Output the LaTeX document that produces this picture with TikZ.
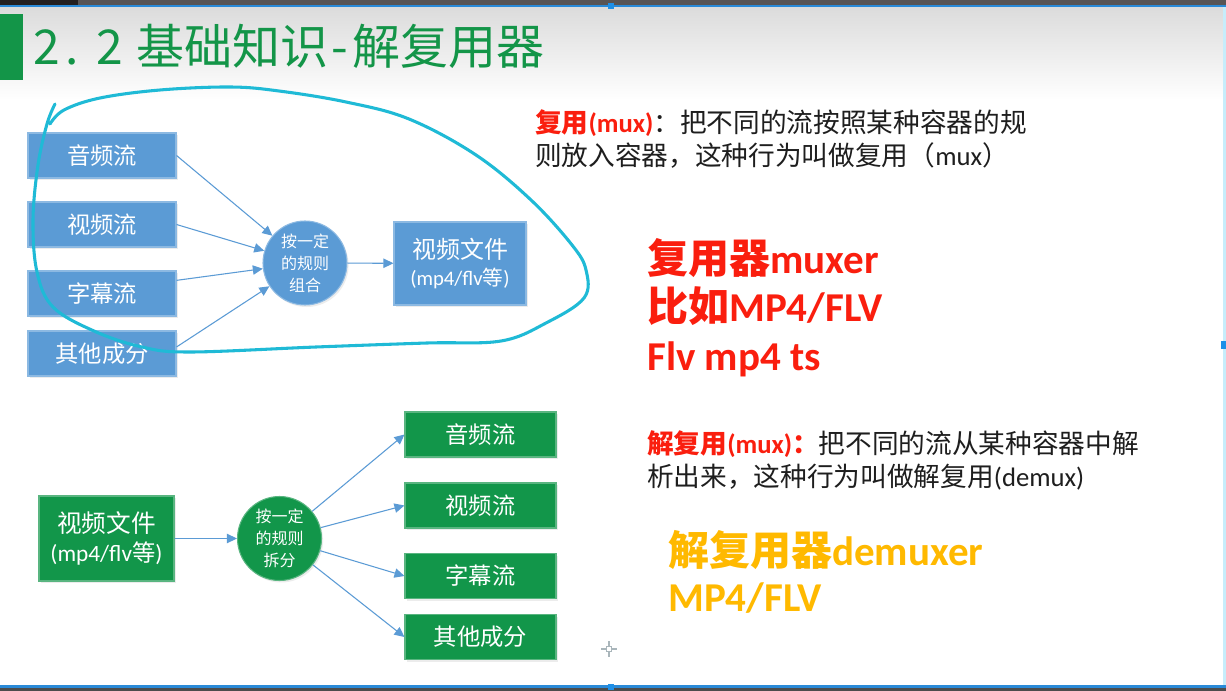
\documentclass[tikz,border=0pt]{standalone}
\usepackage{fontspec}
\setmainfont{Carlito}
\newfontfamily\cjk{Noto Sans CJK SC}
\usetikzlibrary{arrows.meta,shadows}
\newcommand\zh[1]{{\cjk #1}}
\newcommand\cbox[2]{\makebox[#1][c]{#2}}

\definecolor{officeblue}{HTML}{5B9BD5}
\definecolor{boxgreen}{HTML}{12964A}
\definecolor{titlegreen}{HTML}{139548}
\definecolor{penCyan}{HTML}{1FBAD6}
\definecolor{hotred}{HTML}{FA1E0E}
\definecolor{amber}{HTML}{FFB900}
\definecolor{ink}{HTML}{1E1E1E}
\definecolor{barDark}{HTML}{585454}
\definecolor{barBlack}{HTML}{231F1F}
\definecolor{barBlue}{HTML}{2A8AD8}
\definecolor{handle}{HTML}{1E90E8}

\tikzset{
  flowbox/.style={rectangle, fill=#1, draw=#1!70!white, line width=0.8pt,
    text=white, inner sep=0pt,
    drop shadow={opacity=0.15, shadow xshift=1.2pt, shadow yshift=-1.5pt}},
  streambox/.style={flowbox=#1, minimum height=33.75pt,
    font=\fontsize{17.5pt}{21pt}\selectfont\cjk},
  rulecircle/.style={circle, fill=#1, draw=#1!70!white, line width=0.8pt,
    text=white, inner sep=0pt, minimum size=63pt, align=center,
    font=\fontsize{12pt}{16.5pt}\selectfont\cjk,
    drop shadow={opacity=0.15, shadow xshift=1.2pt, shadow yshift=-1.5pt}},
  flow/.style={draw=officeblue, line width=0.8pt,
    -{Triangle[length=7.5pt,width=7pt]}},
  pen/.style={draw=penCyan, line width=2.3pt, line cap=round, line join=round},
  desc/.style={anchor=base west, text=ink, inner sep=0pt,
    font=\fontsize{20pt}{24pt}\selectfont},
  bigline/.style={anchor=base west, inner sep=0pt,
    font=\fontsize{30.75pt}{37pt}\selectfont\bfseries},
}

\begin{document}
\begin{tikzpicture}[x=0.75pt, y=-0.75pt]
\useasboundingbox (0,0) rectangle (1226,691);

% slide background
\fill[white] (0,0) rectangle (1226,691);
\shade[top color=black!14, bottom color=white] (0,7) rectangle (1223,100);
\fill[cyan!22] (1223,0) rectangle (1226,691);

% window bars
\fill[barDark] (0,0) rectangle (1226,5);
\fill[barBlack] (0,0) rectangle (78,5);
\fill[barBlue] (0,5) rectangle (1226,7);
\fill[barBlue] (0,685) rectangle (1226,688);
\fill[black!70] (0,688) rectangle (1226,691);
\fill[handle] (608,3) rectangle (614,9);
\fill[handle] (1221,341) rectangle (1226,349);
\fill[handle] (608,684) rectangle (614,690);

% title
\fill[titlegreen] (0,14) rectangle (23,80);
\node[anchor=base west, inner sep=0pt, text=titlegreen,
      font=\fontsize{36pt}{40pt}\selectfont\cjk] (title) at (35,65)
  {\cbox{0.5em}{2}\cbox{0.55em}{.}\cbox{0.25em}{}\cbox{0.5em}{2}\cbox{0.3em}{}%
   基础知识\cbox{0.5em}{-}解复用器};

% muxing: streams are combined into one file
\node[streambox=officeblue, minimum width=111pt] (ma) at (102,155.5) {音频流};
\node[streambox=officeblue, minimum width=111pt] (mv) at (102,224.5) {视频流};
\node[streambox=officeblue, minimum width=111pt] (ms) at (102,293.5) {字幕流};
\node[streambox=officeblue, minimum width=111pt] (mo) at (102,353.5) {其他成分};
\node[rulecircle=officeblue] (mc) at (305,263) {按一定\\的规则\\组合};
\node[flowbox=officeblue, minimum width=99pt, minimum height=62.25pt, align=center]
  (mf) at (460,263.5)
  {\fontsize{18pt}{24pt}\selectfont\cjk 视频文件\\[5pt]
   \fontsize{15.5pt}{20pt}\selectfont (mp4/flv\zh{等})};

\draw[flow] (ma.east) -- (mc);
\draw[flow] (mv.east) -- (mc);
\draw[flow] (ms.10) -- (mc);
\draw[flow] (mo.5) -- (mc);
\draw[flow] (mc) -- (mf);

% demuxing: one file is split into streams
\node[flowbox=boxgreen, minimum width=101.25pt, minimum height=63.75pt, align=center]
  (df) at (106.5,538.5)
  {\fontsize{18.5pt}{24pt}\selectfont\cjk 视频文件\\[4pt]
   \fontsize{17.5pt}{22pt}\selectfont (mp4/flv\zh{等})};
\node[rulecircle=boxgreen] (dc) at (279.5,538.5) {按一定\\的规则\\拆分};
\node[streambox=boxgreen, minimum width=113.25pt] (da) at (480.5,434.5) {音频流};
\node[streambox=boxgreen, minimum width=113.25pt] (dv) at (480.5,505.5) {视频流};
\node[streambox=boxgreen, minimum width=113.25pt] (ds) at (480.5,576) {字幕流};
\node[streambox=boxgreen, minimum width=113.25pt] (do) at (480.5,637) {其他成分};

\draw[flow] (df) -- (dc);
\draw[flow] (dc) -- (da.west);
\draw[flow] (dc) -- (dv.west);
\draw[flow] (dc) -- (ds.west);
\draw[flow] (dc) -- (do.west);

% hand-drawn pen loop around the muxing diagram
\draw[pen] plot[smooth, tension=0.6] coordinates {
  (55,104) (47,124) (38,165) (33,220) (37,272) (53,307) (94,331) (142,347)
  (190,352) (316,347) (427,343) (501,341) (546,323) (584,298) (586,270)
  (572,245) (531,200) (476,155) (409,119) (346,102) (279,91) (230,87)
  (160,90) (100,98) (64,110) (50,124)};

% definitions
\node[desc] (muxdef1) at (535,133)
  {\textcolor{hotred}{\bfseries\zh{复用}(mux)}\zh{：把不同的流按照某种容器的规}};
\node[desc] (muxdef2) at (535,166)
  {\zh{则放入容器，这种行为叫做复用（}mux\zh{）}};

\node[bigline, text=hotred] (mux1) at (647,273) {\zh{复用器}muxer};
\node[bigline, text=hotred] (mux2) at (647,321) {\zh{比如}MP4/FLV};
\node[bigline, text=hotred] (mux3) at (647,370) {Flv mp4 ts};

\node[desc] (demuxdef1) at (647,453)
  {\textcolor{hotred}{\bfseries\zh{解复用}(mux)\zh{：}}\zh{把不同的流从某种容器中解}};
\node[desc] (demuxdef2) at (647,486)
  {\zh{析出来，这种行为叫做解复用}(demux)};

\node[bigline, text=amber] (demux1) at (668,565) {\zh{解复用器}demuxer};
\node[bigline, text=amber] (demux2) at (668,611) {MP4/FLV};

% mouse cursor
\draw[black!75!cyan!40, line width=0.9pt] (601,649) -- (606.5,649) (611.5,649) -- (617,649)
  (609,641) -- (609,646.5) (609,651.5) -- (609,657);
\draw[black!75!cyan!40, line width=0.7pt] (606.5,646.5) rectangle (611.5,651.5);
\end{tikzpicture}
\end{document}
